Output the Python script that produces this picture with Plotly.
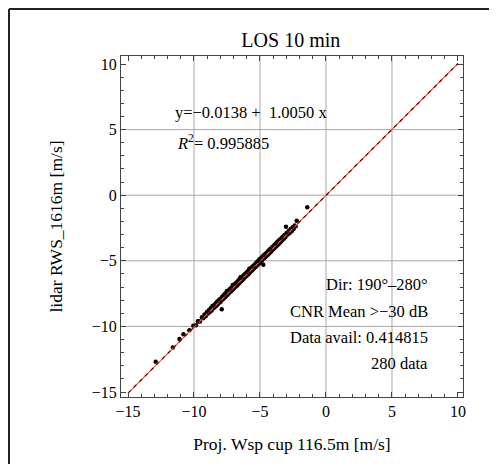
import plotly.graph_objects as go

# ---- data ----
cup_x = [-12.9, -11.6, -11.1, -10.8, -10.35, -10.05, -9.85, -9.7, -9.55, -9.4, -9.3, -9.2, -9.12, -9.0, -8.93,
         -8.86, -8.8, -8.72, -8.66, -8.6, -8.52, -8.47, -8.41, -8.35, -8.3, -8.24, -8.18, -8.12, -8.07, -8.02,
         -7.97, -7.9, -7.88, -7.83, -7.78, -7.74, -7.69, -7.64, -7.6, -7.55, -7.51, -7.47, -7.42, -7.38, -7.33,
         -7.29, -7.25, -7.2, -7.16, -7.12, -7.07, -7.03, -6.98, -6.94, -6.9, -6.86, -6.82, -6.77, -6.73, -6.69,
         -6.65, -6.61, -6.57, -6.52, -6.48, -6.44, -6.4, -6.36, -6.31, -6.27, -6.23, -6.19, -6.15, -6.1, -6.06,
         -6.02, -5.98, -5.93, -5.89, -5.85, -5.81, -5.77, -5.72, -5.68, -5.64, -5.6, -5.56, -5.51, -5.47, -5.43,
         -5.39, -5.35, -5.3, -5.26, -5.22, -5.18, -5.14, -5.1, -5.05, -5.01, -4.97, -4.93, -4.89, -4.85, -4.8,
         -4.75, -4.72, -4.68, -4.64, -4.6, -4.55, -4.51, -4.47, -4.43, -4.39, -4.34, -4.3, -4.26, -4.22, -4.17,
         -4.13, -4.09, -4.05, -4.0, -3.96, -3.92, -3.87, -3.83, -3.79, -3.75, -3.7, -3.66, -3.62, -3.57, -3.53,
         -3.49, -3.44, -3.4, -3.35, -3.3, -3.25, -3.2, -3.14, -3.08, -3.03, -2.98, -2.9, -2.83, -2.75, -2.68,
         -2.6, -2.52, -2.45, -2.37, -2.3, -2.22, -1.42,
         -9.65, -9.05, -8.55, -8.15, -7.7, -7.3, -6.95, -6.5, -6.2, -5.9, -5.55, -5.2, -4.9, -4.58, -4.2,
         -3.9, -3.6, -3.28, -2.95, -2.65]
lidar_y = [-12.7, -11.6, -10.95, -10.6, -10.3, -9.95, -9.92, -9.6, -9.62, -9.3, -9.38, -9.1, -9.22, -8.88, -9.02,
           -8.75, -8.9, -8.6, -8.78, -8.45, -8.62, -8.36, -8.52, -8.24, -8.42, -8.1, -8.3, -8.0, -8.18, -7.92,
           -8.1, -8.7, -7.76, -7.95, -7.66, -7.86, -7.55, -7.75, -7.48, -7.66, -7.3, -7.58, -7.3, -7.5, -7.2,
           -7.4, -7.13, -7.32, -7.05, -7.24, -6.85, -7.15, -6.86, -7.05, -6.78, -6.98, -6.7, -6.9, -6.62, -6.82,
           -6.52, -6.72, -6.45, -6.66, -6.25, -6.56, -6.28, -6.48, -6.2, -6.4, -6.1, -6.3, -6.02, -6.22, -5.95,
           -6.14, -5.86, -6.06, -5.78, -5.98, -5.6, -5.9, -5.6, -5.8, -5.52, -5.72, -5.44, -5.64, -5.36, -5.55,
           -5.28, -5.47, -5.18, -5.4, -5.1, -5.3, -5.02, -5.22, -4.9, -5.14, -4.85, -5.05, -4.76, -4.98, -4.68,
           -5.3, -4.6, -4.8, -4.52, -4.72, -4.44, -4.64, -4.36, -4.55, -4.28, -4.46, -4.18, -4.38, -4.1, -4.3,
           -4.02, -4.2, -3.94, -4.12, -3.86, -4.04, -3.76, -3.95, -3.68, -3.88, -3.58, -3.78, -3.5, -3.7, -3.42,
           -3.6, -3.33, -3.52, -3.24, -3.42, -3.14, -3.32, -3.04, -3.2, -2.4, -2.88, -3.0, -2.72, -2.88, -2.58,
           -2.74, -2.44, -2.58, -2.3, -2.36, -1.94, -0.92,
           -9.6, -9.0, -8.5, -8.12, -7.68, -7.28, -6.92, -6.48, -6.18, -5.88, -5.52, -5.18, -4.88, -4.56, -4.18,
           -3.88, -3.57, -3.25, -2.92, -2.62]

fit_intercept = -0.0138
fit_slope = 1.0050
fit_x = [-15, 10]
fit_y = [fit_intercept + fit_slope * v for v in fit_x]

major_ticks = [-15, -10, -5, 0, 5, 10]
grid_vals = [-10, -5, 0, 5]

title_text = "LOS 10 min"
x_title = "Proj. Wsp cup 116.5m [m/s]"
y_title = "lidar RWS_1616m [m/s]"
fit_text = "y=\u22120.0138 +  1.0050 x"
r2_text = "<i>R</i><sup>2</sup>= 0.995885"
info_lines = ["Dir: 190\u00b0\u2013280\u00b0", "CNR Mean >\u221230 dB", "Data avail: 0.414815", "280 data"]
info_y = [-6.84, -8.83, -10.88, -12.79]

FONT = "Liberation Serif, Times New Roman, serif"

fig = go.Figure()
fig.add_trace(go.Scatter(x=cup_x, y=lidar_y, mode="markers",
                         marker=dict(color="black", size=4.5), showlegend=False))
fig.add_trace(go.Scatter(x=fit_x, y=fit_y, mode="lines",
                         line=dict(color="#e8585a", width=1.2), hoverinfo="skip", showlegend=False))
fig.add_trace(go.Scatter(x=fit_x, y=fit_y, mode="lines",
                         line=dict(color="#7a0000", width=1.2, dash="4px,4px"), hoverinfo="skip", showlegend=False))

shapes = []
for g in grid_vals:
    shapes.append(dict(type="line", xref="x", yref="paper", x0=g, x1=g, y0=0, y1=1,
                       line=dict(color="#a8a8a8", width=1), layer="below"))
    shapes.append(dict(type="line", xref="paper", yref="y", x0=0, x1=1, y0=g, y1=g,
                       line=dict(color="#a8a8a8", width=1), layer="below"))
# outer frame (top and left edges)
shapes.append(dict(type="line", xref="paper", yref="paper", x0=-0.3275, x1=1.2, y0=1.1378, y1=1.1378,
                   line=dict(color="#222222", width=2)))
shapes.append(dict(type="line", xref="paper", yref="paper", x0=-0.3275, x1=-0.3275, y0=1.1378, y1=-0.3,
                   line=dict(color="#222222", width=2)))

ANN_FONT = dict(family=FONT, size=16.5, color="black")
annotations = [
    dict(x=-11.6, y=6.27, xref="x", yref="y", text=fit_text, showarrow=False, xanchor="left", yanchor="middle",
         font=ANN_FONT),
    dict(x=-11.45, y=4.05, xref="x", yref="y", text=r2_text, showarrow=False, xanchor="left", yanchor="middle",
         font=ANN_FONT),
]
for t, yy in zip(info_lines, info_y):
    annotations.append(dict(x=7.88, y=yy, xref="x", yref="y", text=t, showarrow=False, xanchor="right",
                            yanchor="middle", font=ANN_FONT))

axis_common = dict(
    showgrid=False, zeroline=False, showline=True, linecolor="#444444", linewidth=1,
    mirror="allticks", ticks="inside", ticklen=5, tickcolor="#444444", tickwidth=1,
    tickvals=major_ticks, tickfont=dict(family=FONT, size=16, color="black"),
    minor=dict(ticks="inside", dtick=1, ticklen=3, tickcolor="#444444", showgrid=False),
)

fig.update_layout(
    width=481, height=456,
    margin=dict(l=113, r=26, t=48, b=67),
    paper_bgcolor="white", plot_bgcolor="white",
    title=dict(text=title_text, x=0.588, xanchor="center", y=0.93, yanchor="middle",
               font=dict(family=FONT, size=20, color="black")),
    xaxis=dict(range=[-15.53, 10.38], title=dict(text=x_title, font=dict(family=FONT, size=17.5, color="black"),
               standoff=18), **axis_common),
    yaxis=dict(range=[-15.38, 10.61], title=dict(text=y_title, font=dict(family=FONT, size=17.5, color="black"),
               standoff=24), **axis_common),
    shapes=shapes, annotations=annotations,
)

fig.write_html("out.html")
